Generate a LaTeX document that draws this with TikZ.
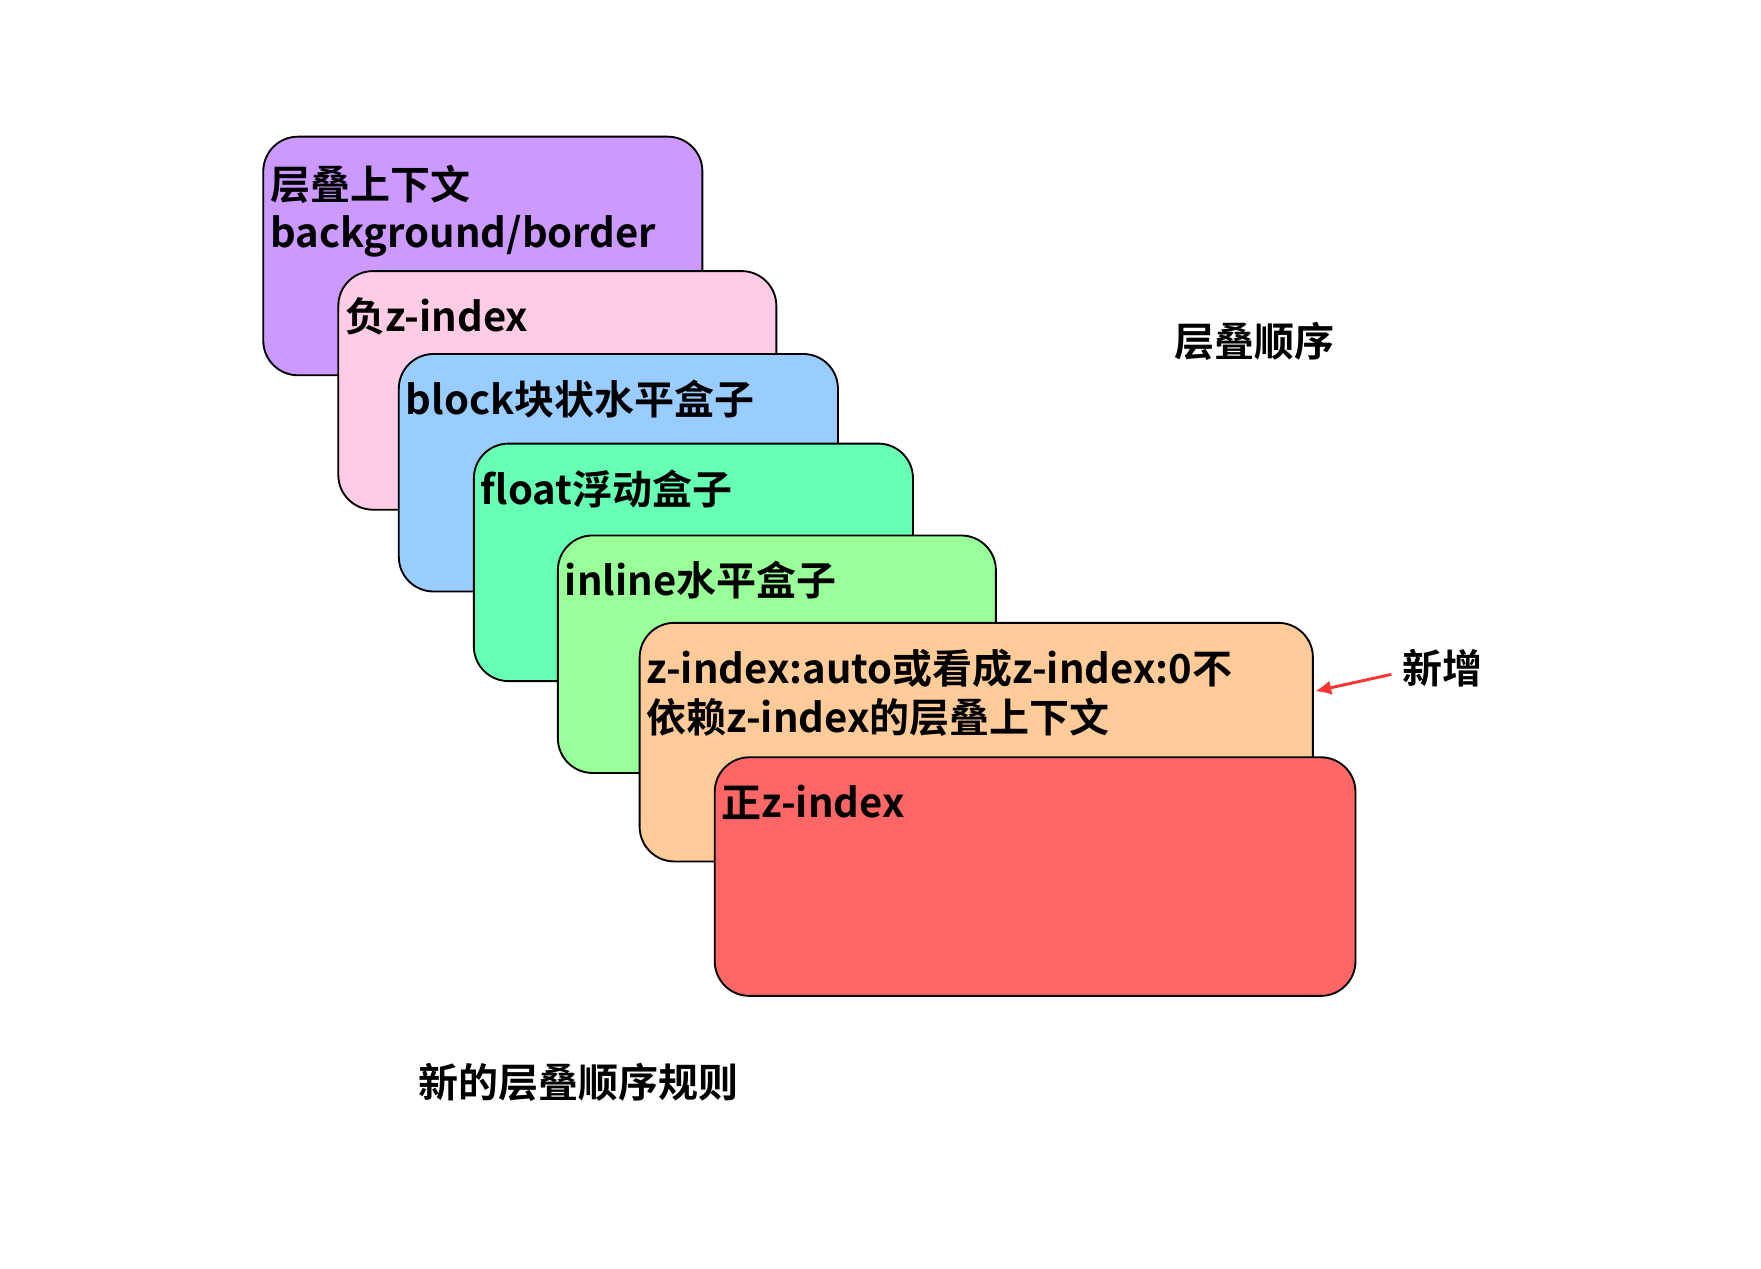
\documentclass[tikz,border=0pt]{standalone}
\usetikzlibrary{arrows.meta}
\usepackage{fontspec}
\setmainfont{Noto Sans CJK SC}[BoldFont={* Bold}]
\begin{document}
\begin{tikzpicture}[x=0.84pt,y=-0.84pt,
  box/.style={draw=black,line width=1.4pt,rounded corners=26},
  lbl/.style={anchor=base west,inner sep=0pt,font=\fontsize{30}{38}\selectfont\bfseries,align=left}]
\useasboundingbox (0,0) rectangle (1572,1132);
\filldraw[box,fill={rgb,255:red,204;green,153;blue,255}] (235,122) rectangle (627,335);
\node[lbl] (t1) at (241,178) {层叠上下文};
\node[lbl] (t1b) at (241,221) {background/border};
\filldraw[box,fill={rgb,255:red,255;green,204;blue,230}] (302,242) rectangle (693,455);
\node[lbl] (t2) at (308,296) {负z-index};
\filldraw[box,fill={rgb,255:red,153;green,204;blue,255}] (356,316) rectangle (748,528);
\node[lbl] (t3) at (362,370) {block块状水平盒子};
\filldraw[box,fill={rgb,255:red,102;green,255;blue,179}] (423,396) rectangle (815,608);
\node[lbl] (t4) at (429,450) {float浮动盒子};
\filldraw[box,fill={rgb,255:red,153;green,255;blue,153}] (498,478) rectangle (889,690);
\node[lbl] (t5) at (504,532) {inline水平盒子};
\filldraw[box,fill={rgb,255:red,255;green,204;blue,153}] (571,556) rectangle (1172,769);
\node[lbl] (t6) at (577,610) {z-index:auto或看成z-index:0不};
\node[lbl] (t6b) at (577,654) {依赖z-index的层叠上下文};
\filldraw[box,fill={rgb,255:red,255;green,102;blue,102}] (638,676) rectangle (1210,889);
\node[lbl] (t7) at (644,730) {正z-index};
\node[lbl] (o) at (1048,318) {层叠顺序};
\node[lbl] (n) at (1252,610) {新增};
\node[lbl] (r) at (373,980) {新的层叠顺序规则};
\coordinate (ae) at (1174,617);
\draw[line width=2.2pt,draw={rgb,255:red,255;green,51;blue,51},-{Latex[length=12pt,width=11pt]}] (1242,602) -- (ae);
\end{tikzpicture}
\end{document}
